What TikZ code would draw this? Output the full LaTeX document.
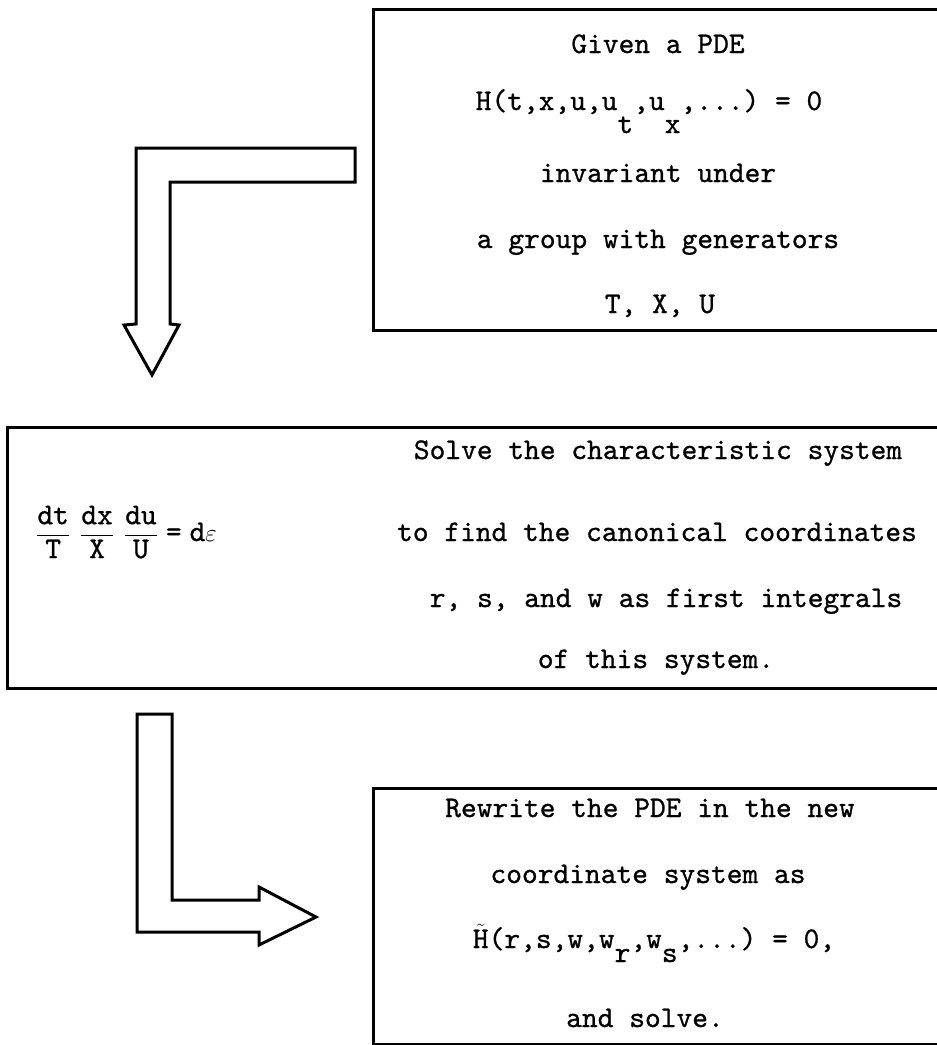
\documentclass[tikz,border=0pt]{standalone}
\usepackage{fontspec}
\setmonofont{lmmono10-regular.otf}[FakeBold=0.8]
\begin{document}
\begin{tikzpicture}[x=1pt,y=-1pt,
  frame/.style={line width=3pt, line join=miter},
  blockarrow/.style={line width=3pt, line join=miter, fill=white},
  txt/.style={anchor=base, inner sep=0pt, font=\fontsize{30}{36}\ttfamily},
]
\clip (0,0) rectangle (937,1045);
\fill[white] (0,0) rectangle (937,1045);

% box 1
\coordinate (b1tr) at (960,9);
\coordinate (b1tl) at (373,9);
\coordinate (b1bl) at (373,330);
\coordinate (b1br) at (960,330);
\draw[frame] (b1tr) -- (b1tl) -- (b1bl) -- (b1br);

% box 2
\coordinate (b2tr) at (960,427);
\coordinate (b2tl) at (7,427);
\coordinate (b2bl) at (7,688);
\coordinate (b2br) at (960,688);
\draw[frame] (b2tr) -- (b2tl) -- (b2bl) -- (b2br);

% box 3
\coordinate (b3tr) at (960,788);
\coordinate (b3tl) at (373,788);
\coordinate (b3bl) at (373,1044);
\coordinate (b3br) at (960,1044);
\draw[frame] (b3tr) -- (b3tl) -- (b3bl) -- (b3br);

% block arrow 1 (from box 1 down to box 2)
\draw[blockarrow] (355,148) -- (136,148) -- (136,324) -- (124,325) -- (152,375)
  -- (179,325) -- (170,324) -- (170,182) -- (355,182) -- cycle;

% block arrow 2 (from box 2 right to box 3)
\draw[blockarrow] (137,714) -- (172,714) -- (172,900) -- (259,900) -- (259,887)
  -- (316,917) -- (259,945) -- (259,932) -- (137,932) -- cycle;

% texts box 1
\node[txt] (t11) at (658,53) {Given a PDE};
\node[txt] (t12) at (649,110) {H(t,x,u,u\raisebox{-23pt}{t},u\raisebox{-23pt}{x},...) = 0};
\node[txt] (t13) at (658,182) {invariant under};
\node[txt] (t14) at (658,248) {a group with generators};
\node[txt] (t15) at (660,313) {T, X, U};

% texts box 2
\node[txt, anchor=base west] (eq) at (36,541)
  {$\displaystyle \frac{\texttt{dt}}{\texttt{T}}\hspace{10pt}\frac{\texttt{dx}}{\texttt{X}}\hspace{10pt}\frac{\texttt{du}}{\texttt{U}}\hspace{8pt}\texttt{=}\hspace{8pt}\texttt{d}\varepsilon$};
\node[txt] (t21) at (658,459) {Solve the characteristic system};
\node[txt] (t22) at (657,541) {to find the canonical coordinates};
\node[txt] (t23) at (666,607) {r, s, and w as first integrals};
\node[txt] (t24) at (656,668) {of this system.};

% texts box 3
\node[txt] (t31) at (650,817) {Rewrite the PDE in the new};
\node[txt] (t32) at (648,883) {coordinate system as};
\node[txt] (t33) at (654,948) {$\tilde{\mbox{\ttfamily H}}$(r,s,w,w\raisebox{-14pt}{r},w\raisebox{-14pt}{s},...) = 0,};
\node[txt] (t34) at (645,1027) {and solve.};
\end{tikzpicture}
\end{document}
